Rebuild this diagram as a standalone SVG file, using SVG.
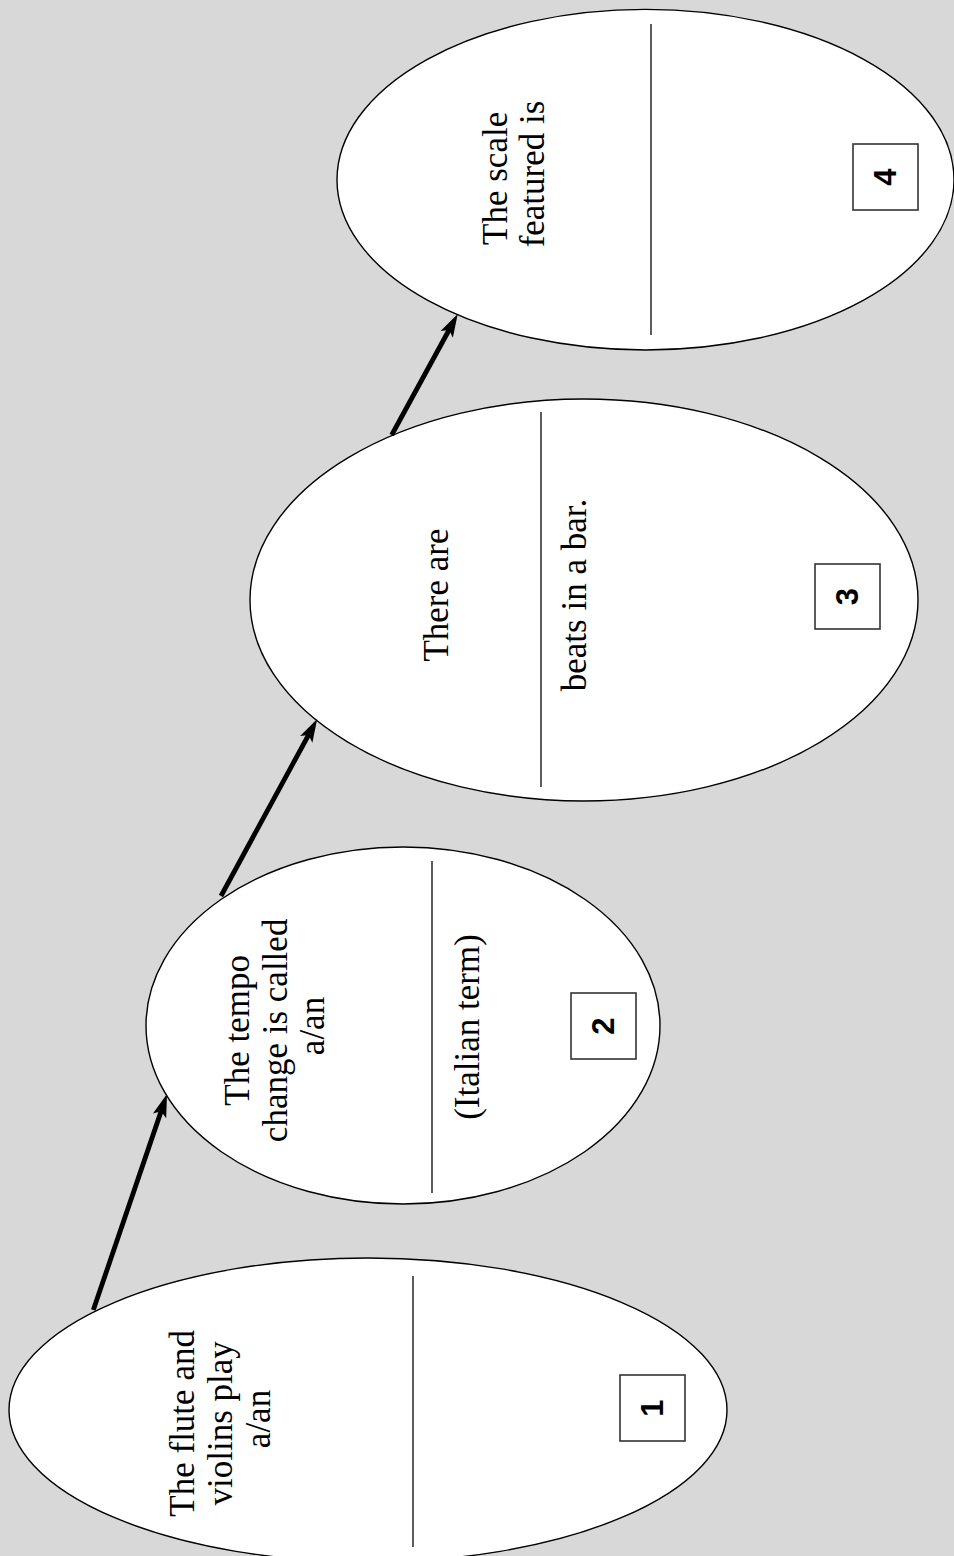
<svg xmlns="http://www.w3.org/2000/svg" width="954" height="1556" viewBox="0 0 954 1556">
  <style>
    .bg { fill: #d8d8d8; }
    .oval { fill: #ffffff; stroke: #000000; stroke-width: 1.4; }
    .div { stroke: #333333; stroke-width: 1.6; }
    .box { fill: #ffffff; stroke: #333333; stroke-width: 1.6; }
    .lbl { font-family: "Liberation Serif", "Times New Roman", serif; font-size: 35px; fill: #000000; text-anchor: middle; }
    .num { font-family: "Liberation Sans", Arial, sans-serif; font-weight: bold; font-size: 31px; fill: #000000; text-anchor: middle; }
    .arrow { stroke: #000000; stroke-width: 4.8; fill: none; }
  </style>
  <defs>
    <marker id="head" markerUnits="userSpaceOnUse" markerWidth="26" markerHeight="18" viewBox="0 -9 24 18" refX="10" refY="0" orient="auto">
      <path d="M0,-7 L23,0 L0,7 L5,0 Z" fill="#000000"/>
    </marker>
  </defs>
  <rect class="bg" x="0" y="0" width="954" height="1556"/>

  <g id="node1">
    <ellipse class="oval" cx="368" cy="1410" rx="359" ry="152"/>
    <line class="div" x1="413" y1="1276" x2="413" y2="1547"/>
    <text class="lbl" transform="translate(193.5,1419) rotate(-90)">
      <tspan x="0" y="0">The flute and</tspan>
      <tspan x="0" dy="38">violins play</tspan>
      <tspan x="0" dy="38">a/an</tspan>
    </text>
    <rect class="box" x="620" y="1375" width="65" height="66"/>
    <text class="num" transform="translate(663,1408) rotate(-90)">1</text>
  </g>

  <g id="node2">
    <ellipse class="oval" cx="403" cy="1025.5" rx="257" ry="178.5"/>
    <line class="div" x1="432" y1="861" x2="432" y2="1193"/>
    <text class="lbl" transform="translate(249,1026) rotate(-90)">
      <tspan x="0" y="0">The tempo</tspan>
      <tspan x="0" dy="37.5">change is called</tspan>
      <tspan x="0" dy="37.5">a/an</tspan>
    </text>
    <text class="lbl" transform="translate(479,1027) rotate(-90)">(Italian term)</text>
    <rect class="box" x="571" y="993" width="65" height="66"/>
    <text class="num" transform="translate(614,1026) rotate(-90)">2</text>
  </g>

  <g id="node3">
    <ellipse class="oval" cx="584" cy="600" rx="334" ry="201"/>
    <line class="div" x1="541" y1="412" x2="541" y2="787"/>
    <text class="lbl" transform="translate(447.5,595) rotate(-90)">There are</text>
    <text class="lbl" transform="translate(586,595) rotate(-90)">beats in a bar.</text>
    <rect class="box" x="815" y="564" width="65" height="65"/>
    <text class="num" transform="translate(858,596.5) rotate(-90)">3</text>
  </g>

  <g id="node4">
    <ellipse class="oval" cx="645.5" cy="179.7" rx="308.5" ry="170.3"/>
    <line class="div" x1="651" y1="24" x2="651" y2="335"/>
    <text class="lbl" transform="translate(506.5,174) rotate(-90)">
      <tspan x="0" y="0">The scale</tspan>
      <tspan x="0" dy="37.5">featured is</tspan>
    </text>
    <rect class="box" x="853" y="144" width="65" height="66"/>
    <text class="num" transform="translate(896,177) rotate(-90)">4</text>
  </g>

  <g id="connectors">
    <line class="arrow" x1="93.3" y1="1310" x2="162.8" y2="1106.4" marker-end="url(#head)"/>
    <line class="arrow" x1="221" y1="896" x2="311" y2="730.5" marker-end="url(#head)"/>
    <line class="arrow" x1="391.7" y1="435" x2="451.5" y2="325.5" marker-end="url(#head)"/>
  </g>
</svg>
